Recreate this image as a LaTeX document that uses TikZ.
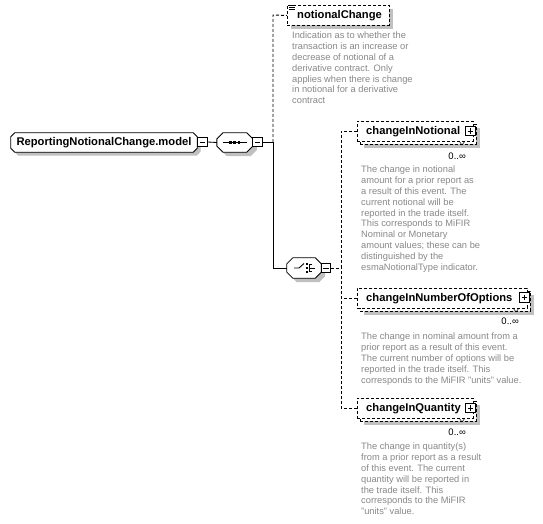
\documentclass[tikz,border=0pt]{standalone}
\usepackage{fontspec}
\setmainfont{Liberation Sans}
\usetikzlibrary{calc,shadows}
\definecolor{desccol}{HTML}{888888}
\definecolor{shadcol}{HTML}{C0C0C0}
\pgfdeclarelayer{bg}
\pgfsetlayers{bg,main}
% octagon (chamfered) outline around a named node: name, chamfer, offset, options
\newcommand\octagonpath[4]{\path[#4] ($(#1.north west)+(#2+#3,#3)$) -- ($(#1.north east)+(-#2+#3,#3)$) -- ($(#1.north east)+(#3,#2+#3)$) -- ($(#1.south east)+(#3,-#2+#3)$) -- ($(#1.south east)+(-#2+#3,#3)$) -- ($(#1.south west)+(#2+#3,#3)$) -- ($(#1.south west)+(#3,-#2+#3)$) -- ($(#1.north west)+(#3,#2+#3)$) -- cycle;}
\tikzset{
  ebox/.style={draw, fill=white, line width=0.95pt, dash pattern=on 3pt off 2pt, anchor=north west, inner sep=0, minimum height=20pt},
  eshadow/.style={drop shadow={shadow xshift=4pt, shadow yshift=-4pt, fill=shadcol, opacity=1}},
  ename/.style={font=\bfseries\fontsize{11.2}{13}\selectfont, anchor=west, inner sep=0},
  cnode/.style={draw=none, inner sep=0, font=\bfseries\fontsize{11.2}{13}\selectfont},
  desctext/.style={font=\fontsize{9.3}{10.8}\selectfont, text=desccol, align=left, anchor=north west, inner sep=0},
  card/.style={font=\fontsize{9.5}{10}\selectfont, anchor=east, inner sep=0},
  pmbox/.style={draw, fill=white, minimum size=9.5pt, inner sep=0, line width=0.85pt},
  minusbox/.style={pmbox, path picture={\draw[line width=0.9pt] ([xshift=2pt]path picture bounding box.west) -- ([xshift=-2pt]path picture bounding box.east);}},
  plusbox/.style={pmbox, path picture={\draw[line width=0.9pt] ([xshift=2pt]path picture bounding box.west) -- ([xshift=-2pt]path picture bounding box.east); \draw[line width=0.9pt] ([yshift=-2pt]path picture bounding box.north) -- ([yshift=2pt]path picture bounding box.south);}},
  conn/.style={line width=0.85pt},
  dconn/.style={line width=0.95pt, dash pattern=on 3pt off 2pt},
  icon/.style={line width=0.9pt},
}
\begin{document}
\begin{tikzpicture}[x=1pt,y=-1pt]
\useasboundingbox (0,0) rectangle (543,524);
\begin{pgfonlayer}{bg}
  \fill[white] (0,0) rectangle (543,524);
\end{pgfonlayer}

% ---------- root ----------
\node[cnode, minimum width=186pt, minimum height=19pt] (root) at (104,142.5) {ReportingNotionalChange.model};
\node[minusbox] (rootm) at (202.5,142) {};

% ---------- sequence compositor ----------
\node[cnode, minimum width=35.5pt, minimum height=19pt] (seq) at (234.8,142.5) {};
\node[minusbox] (seqm) at (257.5,142) {};
\draw[icon] ($(seq.center)+(-12,0)$) -- ($(seq.center)+(12,0)$);
\foreach \dx in {-5.6,-1.4,2.8} \fill ($(seq.center)+(\dx,-1.4)$) rectangle +(2.8,2.8);

% ---------- choice compositor ----------
\node[cnode, minimum width=34pt, minimum height=20pt] (cho) at (304,268) {};
\node[minusbox] (chom) at (326,268) {};
\draw[icon] ($(cho.center)+(-10,0)$) -- ($(cho.center)+(-5,0)$) -- ($(cho.center)+(0,-4.5)$);
\foreach \dy in {-3.8,0,3.8} \fill ($(cho.center)+(1.5,\dy-1)$) rectangle +(2,2);
\draw[icon] ($(cho.center)+(5.5,-3.8)$) -- ($(cho.center)+(5.5,3.8)$);
\foreach \dy in {-3.8,3.8} \draw[icon] ($(cho.center)+(5.5,\dy)$) -- +(2,0);
\draw[icon] ($(cho.center)+(5.5,0)$) -- ($(cho.center)+(11,0)$);

\begin{pgfonlayer}{bg}
  \octagonpath{root}{4}{3.5}{fill=shadcol}
  \octagonpath{root}{4}{0}{fill=white, draw=black, line width=0.85pt}
  \octagonpath{seq}{6}{4}{fill=shadcol}
  \octagonpath{seq}{6}{0}{fill=white, draw=black, line width=0.85pt}
  \octagonpath{cho}{6}{4}{fill=shadcol}
  \octagonpath{cho}{6}{0}{fill=white, draw=black, line width=0.85pt}
\end{pgfonlayer}

% ---------- notionalChange ----------
\node[ebox, eshadow, minimum width=102pt] (nc) at (287,5) {};
\node[ename] (ncn) at (297,15.5) {notionalChange};
\foreach \yy in {5,7.2,9.4} \draw[line width=0.6pt] (289,\yy) -- (294.5,\yy);
\node[desctext] (ncd) at (292,32) {Indication as to whether the\\transaction is an increase or\\decrease of notional of a\\derivative contract. Only\\applies when there is change\\in notional for a derivative\\contract};

% ---------- changeInNotional ----------
\node[ebox, eshadow, minimum width=116pt] (cinb) at (360,124) {};
\node[ebox, minimum width=116pt] (cin) at (357,121) {};
\node[ename] (cinn) at (366,131.5) {changeInNotional};
\node[plusbox] (cinp) at (470.5,131) {};
\draw[line width=0.5pt] (459,141) -- (462,145) -- (465,141);
\node[card] (cinc) at (466,156) {0..∞};
\node[desctext] (cind) at (361,166) {The change in notional\\amount for a prior report as\\a result of this event. The\\current notional will be\\reported in the trade itself.\\This corresponds to MiFIR\\Nominal or Monetary\\amount values; these can be\\distinguished by the\\esmaNotionalType indicator.};

% ---------- changeInNumberOfOptions ----------
\node[ebox, eshadow, minimum width=170pt] (cnob) at (360,291) {};
\node[ebox, minimum width=170pt] (cno) at (357,288) {};
\node[ename] (cnon) at (366,298.5) {changeInNumberOfOptions};
\node[plusbox] (cnop) at (524.5,297.5) {};
\draw[line width=0.5pt] (513,308) -- (516,312) -- (519,308);
\node[card] (cnoc) at (519,321) {0..∞};
\node[desctext] (cnod) at (361,333) {The change in nominal amount from a\\prior report as a result of this event.\\The current number of options will be\\reported in the trade itself. This\\corresponds to the MiFIR "units" value.};

% ---------- changeInQuantity ----------
\node[ebox, eshadow, minimum width=116pt] (cqb) at (360,401) {};
\node[ebox, minimum width=116pt] (cq) at (357,398) {};
\node[ename] (cqn) at (366,408.5) {changeInQuantity};
\node[plusbox] (cqp) at (470.5,408) {};
\draw[line width=0.5pt] (459,418) -- (462,422) -- (465,418);
\node[card] (cqc) at (466,432) {0..∞};
\node[desctext] (cqd) at (361,443) {The change in quantity(s)\\from a prior report as a result\\of this event. The current\\quantity will be reported in\\the trade itself. This\\corresponds to the MiFIR\\"units" value.};

% ---------- connectors ----------
\coordinate (j1) at (273,142);
\coordinate (jn) at (273,15);
\coordinate (jc) at (273,268);
\coordinate (k) at (341,268);
\draw[conn] (rootm.east) -- (seq.west);
\draw[conn] (seqm.east) -- (j1);
\draw[dconn] (j1) -- (jn) -- (nc.west);
\draw[conn] (j1) -- (jc) -- (cho.west);
\draw[dconn] (chom.east) -- (k);
\draw[dconn] (cin.west) -| (k);
\draw[dconn] (cq.west) -| (k);
\draw[dconn] (cno.west) -- (cno.west -| k);
\end{tikzpicture}
\end{document}
